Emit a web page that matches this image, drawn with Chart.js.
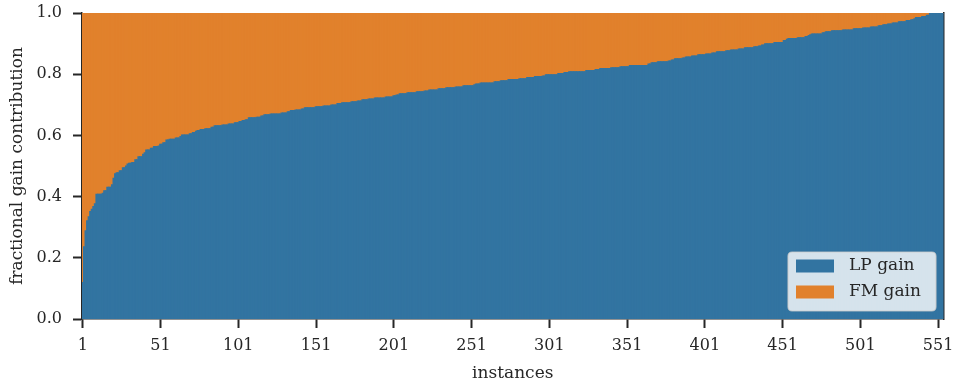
<!DOCTYPE html>
<html>
<head>
<meta charset="utf-8">
<script src="https://cdn.jsdelivr.net/npm/chart.js@4.4.1/dist/chart.umd.min.js"></script>
<style>
  html, body { margin: 0; padding: 0; background: #ffffff; }
  #wrap { width: 956px; height: 384px; }
</style>
</head>
<body>
<div id="wrap"><canvas id="chart" width="956" height="384"></canvas></div>
<script>
// Fraction of the total gain coming from the LP step, per instance (sorted ascending).
const lpGain = [
  0.119, 0.236, 0.288, 0.321, 0.334, 0.351, 0.358, 0.367, 0.376, 0.407,
  0.407, 0.407, 0.407, 0.411, 0.419, 0.419, 0.430, 0.430, 0.430, 0.438,
  0.460, 0.474, 0.478, 0.478, 0.484, 0.484, 0.494, 0.494, 0.500, 0.506,
  0.509, 0.509, 0.511, 0.511, 0.520, 0.520, 0.530, 0.530, 0.530, 0.538,
  0.543, 0.552, 0.552, 0.552, 0.558, 0.558, 0.563, 0.563, 0.563, 0.565,
  0.571, 0.571, 0.576, 0.576, 0.585, 0.585, 0.587, 0.587, 0.587, 0.587,
  0.591, 0.591, 0.591, 0.596, 0.601, 0.601, 0.601, 0.601, 0.601, 0.605,
  0.605, 0.609, 0.609, 0.613, 0.616, 0.616, 0.619, 0.619, 0.619, 0.621,
  0.621, 0.621, 0.621, 0.626, 0.626, 0.631, 0.631, 0.631, 0.631, 0.631,
  0.634, 0.634, 0.634, 0.634, 0.637, 0.637, 0.637, 0.637, 0.641, 0.641,
  0.641, 0.645, 0.645, 0.648, 0.648, 0.651, 0.651, 0.657, 0.657, 0.657,
  0.657, 0.657, 0.659, 0.659, 0.659, 0.663, 0.663, 0.667, 0.667, 0.667,
  0.667, 0.670, 0.670, 0.670, 0.670, 0.670, 0.670, 0.670, 0.673, 0.673,
  0.673, 0.673, 0.677, 0.677, 0.681, 0.681, 0.681, 0.683, 0.683, 0.683,
  0.683, 0.686, 0.686, 0.690, 0.690, 0.690, 0.690, 0.690, 0.690, 0.690,
  0.693, 0.693, 0.693, 0.693, 0.693, 0.696, 0.696, 0.696, 0.696, 0.696,
  0.699, 0.699, 0.699, 0.699, 0.704, 0.704, 0.704, 0.706, 0.706, 0.706,
  0.706, 0.706, 0.706, 0.710, 0.710, 0.710, 0.710, 0.712, 0.712, 0.712,
  0.716, 0.716, 0.716, 0.716, 0.719, 0.719, 0.719, 0.719, 0.722, 0.722,
  0.722, 0.722, 0.722, 0.722, 0.722, 0.725, 0.725, 0.725, 0.725, 0.725,
  0.729, 0.729, 0.732, 0.732, 0.736, 0.736, 0.736, 0.736, 0.736, 0.739,
  0.739, 0.739, 0.739, 0.739, 0.739, 0.742, 0.742, 0.742, 0.742, 0.742,
  0.745, 0.745, 0.745, 0.748, 0.748, 0.748, 0.748, 0.748, 0.748, 0.752,
  0.752, 0.752, 0.752, 0.752, 0.755, 0.755, 0.755, 0.755, 0.755, 0.755,
  0.758, 0.758, 0.758, 0.758, 0.758, 0.762, 0.762, 0.762, 0.762, 0.762,
  0.762, 0.762, 0.765, 0.768, 0.768, 0.768, 0.771, 0.771, 0.771, 0.771,
  0.771, 0.771, 0.771, 0.771, 0.771, 0.775, 0.775, 0.775, 0.775, 0.778,
  0.778, 0.778, 0.778, 0.778, 0.782, 0.782, 0.782, 0.782, 0.782, 0.782,
  0.782, 0.785, 0.785, 0.785, 0.785, 0.785, 0.789, 0.789, 0.789, 0.789,
  0.789, 0.792, 0.792, 0.792, 0.792, 0.792, 0.794, 0.794, 0.798, 0.798,
  0.798, 0.798, 0.798, 0.798, 0.798, 0.798, 0.802, 0.802, 0.802, 0.802,
  0.805, 0.805, 0.805, 0.808, 0.808, 0.808, 0.808, 0.808, 0.808, 0.808,
  0.808, 0.808, 0.808, 0.808, 0.812, 0.812, 0.812, 0.812, 0.812, 0.812,
  0.815, 0.815, 0.815, 0.818, 0.818, 0.818, 0.818, 0.818, 0.818, 0.818,
  0.821, 0.821, 0.821, 0.821, 0.821, 0.821, 0.824, 0.824, 0.824, 0.824,
  0.824, 0.824, 0.828, 0.828, 0.828, 0.828, 0.828, 0.828, 0.828, 0.828,
  0.828, 0.828, 0.828, 0.828, 0.833, 0.833, 0.837, 0.837, 0.837, 0.837,
  0.840, 0.840, 0.840, 0.840, 0.840, 0.840, 0.840, 0.843, 0.843, 0.846,
  0.846, 0.850, 0.850, 0.850, 0.850, 0.850, 0.853, 0.853, 0.856, 0.856,
  0.856, 0.856, 0.859, 0.859, 0.859, 0.859, 0.863, 0.863, 0.863, 0.863,
  0.863, 0.866, 0.866, 0.866, 0.866, 0.869, 0.869, 0.869, 0.873, 0.873,
  0.873, 0.873, 0.873, 0.873, 0.876, 0.876, 0.876, 0.879, 0.879, 0.879,
  0.879, 0.879, 0.882, 0.882, 0.882, 0.882, 0.886, 0.886, 0.886, 0.886,
  0.886, 0.886, 0.889, 0.889, 0.889, 0.892, 0.892, 0.895, 0.895, 0.899,
  0.899, 0.899, 0.899, 0.899, 0.899, 0.903, 0.903, 0.903, 0.903, 0.903,
  0.903, 0.910, 0.910, 0.914, 0.916, 0.916, 0.916, 0.916, 0.916, 0.916,
  0.919, 0.919, 0.919, 0.919, 0.919, 0.923, 0.923, 0.926, 0.929, 0.931,
  0.931, 0.931, 0.931, 0.931, 0.931, 0.931, 0.935, 0.935, 0.938, 0.938,
  0.938, 0.938, 0.942, 0.942, 0.942, 0.942, 0.942, 0.942, 0.942, 0.944,
  0.944, 0.944, 0.944, 0.944, 0.944, 0.944, 0.948, 0.948, 0.948, 0.948,
  0.948, 0.948, 0.951, 0.951, 0.951, 0.951, 0.951, 0.954, 0.954, 0.954,
  0.954, 0.954, 0.958, 0.958, 0.958, 0.961, 0.961, 0.961, 0.964, 0.964,
  0.964, 0.967, 0.967, 0.967, 0.967, 0.971, 0.971, 0.971, 0.971, 0.971,
  0.975, 0.975, 0.975, 0.978, 0.978, 0.981, 0.985, 0.985, 0.985, 0.985,
  0.988, 0.988, 0.988, 0.992, 0.992, 1.000, 1.000, 1.000, 1.000, 1.000,
  1.000, 1.000, 1.000, 1.000
];

// The two contributions are fractions of the same total, so FM is the remainder.
const fmGain = lpGain.map(v => +(1 - v).toFixed(3));

// One category per instance, numbered from 1.
const instances = lpGain.map((_, i) => String(i + 1));

const xTickLabels = ['1', '51', '101', '151', '201', '251', '301', '351', '401', '451', '501', '551'];
const yTickValues = [0, 0.2, 0.4, 0.6, 0.8, 1.0];

const seriesNames = ['LP gain', 'FM gain'];
const seriesColors = ['#3274a1', '#e1812c'];

const INK = '#262626';
const SERIF = '"DejaVu Serif", "Liberation Serif", serif';

Chart.defaults.color = INK;
Chart.defaults.font.family = SERIF;

// Legend drawn as a framed box in the lower-right corner of the plot area.
const boxedLegend = {
  id: 'boxedLegend',
  afterDraw(chart) {
    const { ctx, chartArea: ca } = chart;
    const sets = chart.data.datasets;
    ctx.save();
    ctx.font = '17px ' + SERIF;
    const textW = Math.max(...sets.map(d => ctx.measureText(d.label).width));
    const w = Math.max(148, 8 + 38 + 15 + textW + 10);
    const h = 59;
    const x = ca.right - 7.5 - w;
    const y = ca.bottom - 8 - h;
    ctx.beginPath();
    if (ctx.roundRect) ctx.roundRect(x, y, w, h, 4); else ctx.rect(x, y, w, h);
    ctx.fillStyle = 'rgba(255,255,255,0.8)';
    ctx.fill();
    ctx.strokeStyle = 'rgba(204,204,204,0.8)';
    ctx.lineWidth = 1.2;
    ctx.stroke();
    sets.forEach((d, i) => {
      const cy = y + 14 + i * 26;
      ctx.fillStyle = d.backgroundColor;
      ctx.fillRect(x + 8, cy - 6.5, 38, 13);
      ctx.fillStyle = INK;
      ctx.textBaseline = 'middle';
      ctx.textAlign = 'left';
      ctx.fillText(d.label, x + 61, cy);
    });
    ctx.restore();
  }
};

new Chart(document.getElementById('chart'), {
  type: 'bar',
  data: {
    labels: instances,
    datasets: [
      { label: seriesNames[0], data: lpGain, backgroundColor: seriesColors[0], borderWidth: 0,
        barPercentage: 1, categoryPercentage: 1, inflateAmount: 0.6 },
      { label: seriesNames[1], data: fmGain, backgroundColor: seriesColors[1], borderWidth: 0,
        barPercentage: 1, categoryPercentage: 1, inflateAmount: 0.6 }
    ]
  },
  options: {
    responsive: false,
    devicePixelRatio: 1,
    animation: false,
    layout: { padding: { top: 13, right: 12.5, left: 0, bottom: 0 } },
    plugins: {
      legend: { display: false },
      tooltip: { enabled: false }
    },
    scales: {
      x: {
        type: 'category',
        stacked: true,
        offset: true,
        grid: { display: true, offset: false, drawOnChartArea: false, drawTicks: true,
                tickLength: 9, tickWidth: 2, tickColor: INK },
        border: { display: true, color: INK, width: 1.5 },
        ticks: { autoSkip: false, maxRotation: 0, minRotation: 0, padding: 8.5,
                 color: INK, font: { size: 16 } },
        title: { display: true, text: 'instances', color: INK, font: { size: 17 },
                 padding: { top: 0, bottom: 0 } },
        afterBuildTicks(scale) {
          scale.ticks = scale.ticks.filter(t => xTickLabels.includes(instances[t.value]));
        },
        afterFit(scale) {
          scale.height = 65;
          scale.paddingLeft = 0;
          scale.paddingRight = 0;
        }
      },
      y: {
        type: 'linear',
        stacked: true,
        min: 0,
        max: 1,
        grid: { display: true, drawOnChartArea: false, drawTicks: true,
                tickLength: 9, tickWidth: 2, tickColor: INK },
        border: { display: true, color: INK, width: 1.5 },
        ticks: { stepSize: 0.2, padding: 11, color: INK, font: { size: 16 },
                 callback: v => v.toFixed(1) },
        title: { display: true, text: 'fractional gain contribution', color: INK,
                 font: { size: 17 }, padding: { top: 7, bottom: 0 } },
        afterBuildTicks(scale) {
          scale.ticks = yTickValues.map(v => ({ value: v }));
        },
        afterFit(scale) {
          scale.width = 82;
          scale.paddingTop = 0;
          scale.paddingBottom = 0;
        }
      },
      yRight: {
        type: 'linear',
        position: 'right',
        display: true,
        min: 0,
        max: 1,
        grid: { display: false, drawTicks: false },
        ticks: { display: false },
        border: { display: true, color: INK, width: 1.5 },
        afterFit(scale) {
          scale.width = 0;
          scale.paddingTop = 0;
          scale.paddingBottom = 0;
        }
      }
    }
  },
  plugins: [boxedLegend]
});
</script>
</body>
</html>
